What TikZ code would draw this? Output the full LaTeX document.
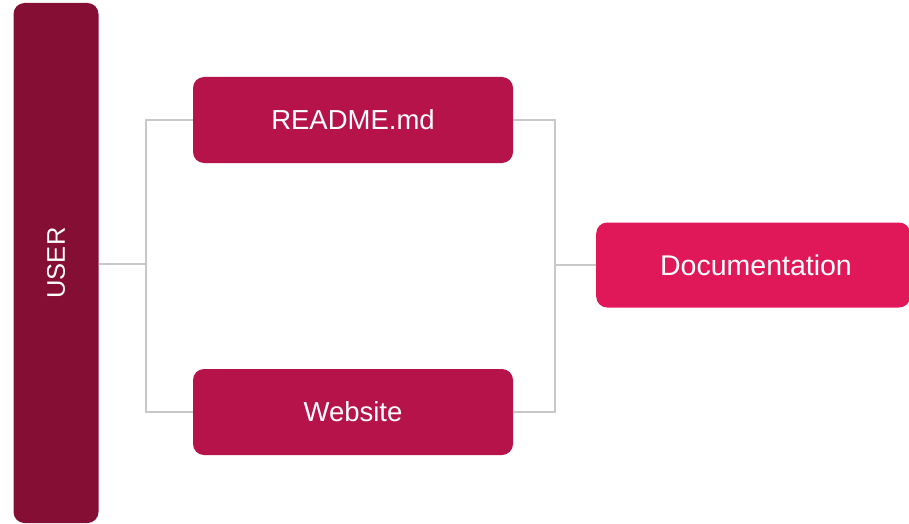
\documentclass[tikz,border=0pt]{standalone}
\usepackage{fontspec}
\setmainfont{Liberation Sans}
\definecolor{userred}{HTML}{850E35}
\definecolor{srcred}{HTML}{B51349}
\definecolor{docred}{HTML}{E0185A}
\definecolor{linkgray}{HTML}{C8C8C8}
\begin{document}
\begin{tikzpicture}[x=1pt,y=-1pt,
  box/.style={rounded corners=11pt, draw=none, inner sep=0pt, text=white,
    font=\fontsize{27.5}{32}\selectfont},
  link/.style={draw=linkgray, line width=2pt}]
\useasboundingbox (0,0) rectangle (909,524);
% user column
\node[box, fill=userred, minimum width=85pt, minimum height=520pt] (user) at (56,263) {};
\node[text=white, rotate=90, font=\fontsize{25.5}{30}\selectfont] (userlbl) at (user.center) {USER};
% sources
\node[box, fill=srcred, minimum width=320pt, minimum height=86pt] (readme) at (353,120) {README.md};
\node[box, fill=srcred, minimum width=320pt, minimum height=86pt] (web) at (353,412) {Website};
% target
\node[box, fill=docred, minimum width=314pt, minimum height=85pt, anchor=west] (doc) at (596,265) {};
\node[text=white, font=\fontsize{28.5}{32}\selectfont] (doclbl) at (756,265) {Documentation};
% junction points
\coordinate (jl) at (146,264);
\coordinate (jr) at (555,265);
\draw[link] (user.east |- jl) -- (jl);
\draw[link] (readme.west) -| (jl) |- (web.west);
\draw[link] (readme.east) -| (jr) |- (web.east);
\draw[link] (jr) -- (doc.west);
\end{tikzpicture}
\end{document}
